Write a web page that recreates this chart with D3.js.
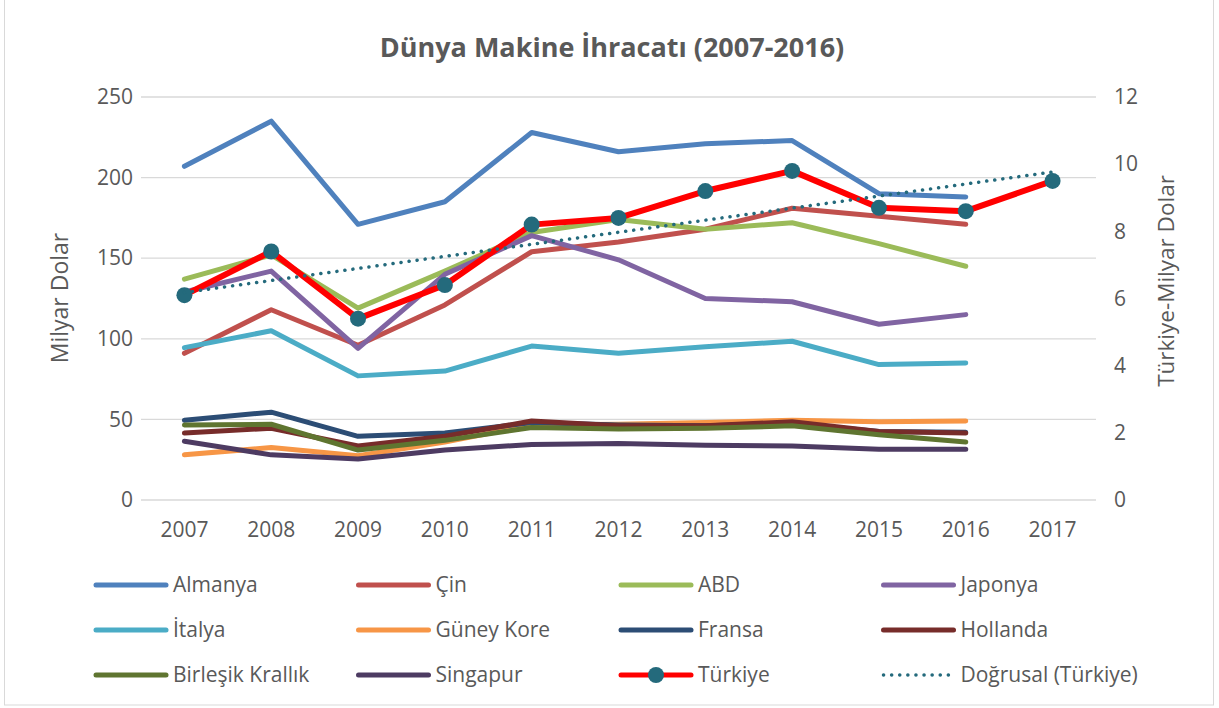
<!DOCTYPE html>
<html>

<head>
	<meta charset="utf-8">
	<script src="https://d3js.org/d3.v7.min.js"></script>
	<title>Dünya Makine İhracatı</title>
	<style>
		body { margin: 0; background: #fff; }
		text { font-family: "Open Sans", sans-serif; fill: #595959; }
	</style>
</head>

<body>
	<div id="chart"></div>
	<script>

		// years on the x axis (2017 only has a Türkiye value)
		let years = ["2007", "2008", "2009", "2010", "2011", "2012", "2013", "2014", "2015", "2016", "2017"];

		// left axis series, milyar dolar, 2007-2016
		let almanya = [207, 235, 171, 185, 228, 216, 221, 223, 190, 188];
		let cin = [91, 118, 96, 121, 154, 160, 168, 181, 176, 171];
		let abd = [137, 152, 119, 142, 166, 174, 168, 172, 159, 145];
		let japonya = [129, 142, 94, 140, 164, 149, 125, 123, 109, 115];
		let italya = [94.5, 105, 77, 80, 95.5, 91, 95, 98.5, 84, 85];
		let guneyKore = [28, 32.5, 27.5, 36, 46.5, 47, 48, 49.5, 48.5, 49];
		let fransa = [49.5, 54.5, 39.5, 41.5, 48, 46.5, 46, 47.5, 42.5, 42];
		let hollanda = [41.5, 44.5, 33.5, 39.5, 49, 46, 46, 48.5, 42.5, 41.5];
		let birlesikKrallik = [46.5, 47, 31, 37, 45, 44, 44.5, 46, 40.5, 36];
		let singapur = [36.5, 28, 25.5, 31, 34.5, 35, 34, 33.5, 31.5, 31.5];

		// right axis, Türkiye, milyar dolar, 2007-2017
		let turkiye = [6.1, 7.4, 5.4, 6.4, 8.2, 8.4, 9.2, 9.8, 8.7, 8.6, 9.5];

		let leftTicks = [0, 50, 100, 150, 200, 250];
		let rightTicks = [0, 2, 4, 6, 8, 10, 12];

		let series = [
			{ name: "Almanya", values: almanya, color: "#4F81BD" },
			{ name: "Çin", values: cin, color: "#C0504D" },
			{ name: "ABD", values: abd, color: "#9BBB59" },
			{ name: "Japonya", values: japonya, color: "#8064A2" },
			{ name: "İtalya", values: italya, color: "#4BACC6" },
			{ name: "Güney Kore", values: guneyKore, color: "#F79646" },
			{ name: "Fransa", values: fransa, color: "#2C4D75" },
			{ name: "Hollanda", values: hollanda, color: "#772C2A" },
			{ name: "Birleşik Krallık", values: birlesikKrallik, color: "#5F7530" },
			{ name: "Singapur", values: singapur, color: "#4D3B62" }
		];

		let W = 1219, H = 708;
		let margin = { top: 97, right: 123, bottom: 208, left: 141 };

		let svg = d3.select("#chart").append("svg")
			.attr("width", W)
			.attr("height", H);

		// outer border of the chart area
		svg.append("rect")
			.attr("x", 4.5).attr("y", -1)
			.attr("width", 1209).attr("height", 706)
			.attr("fill", "none")
			.attr("stroke", "#d9d9d9");

		let x = d3.scaleBand()
			.domain(years)
			.range([margin.left, W - margin.right]);
		let cx = d => x(d) + x.bandwidth() / 2;

		let yL = d3.scaleLinear().domain([0, 250]).range([H - margin.bottom, margin.top]);
		let yR = d3.scaleLinear().domain([0, 12]).range([H - margin.bottom, margin.top]);

		// title
		svg.append("text")
			.attr("x", 612).attr("y", 57)
			.attr("text-anchor", "middle")
			.style("font-size", "27px")
			.style("font-weight", "bold")
			.text("Dünya Makine İhracatı (2007-2016)");

		// gridlines
		svg.append("g")
			.selectAll("line")
			.data(leftTicks)
			.enter().append("line")
			.attr("x1", margin.left).attr("x2", W - margin.right)
			.attr("y1", d => yL(d)).attr("y2", d => yL(d))
			.attr("stroke", "#d9d9d9")
			.attr("stroke-width", 1.3);

		// axes
		let fs = "21px";
		let gL = svg.append("g")
			.attr("transform", "translate(" + margin.left + ",0)")
			.call(d3.axisLeft(yL).tickValues(leftTicks).tickSize(0).tickPadding(8));
		let gR = svg.append("g")
			.attr("transform", "translate(" + (W - margin.right) + ",0)")
			.call(d3.axisRight(yR).tickValues(rightTicks).tickSize(0).tickPadding(18));
		let gX = svg.append("g")
			.attr("transform", "translate(0," + (H - margin.bottom) + ")")
			.call(d3.axisBottom(x).tickSize(0).tickPadding(22));
		[gL, gR, gX].forEach(g => {
			g.select(".domain").remove();
			g.selectAll("text").style("font-size", fs).attr("fill", "#595959")
				.style("font-family", "'Open Sans', sans-serif");
		});

		// axis titles
		svg.append("text")
			.attr("transform", "translate(68,298) rotate(-90)")
			.attr("text-anchor", "middle")
			.style("font-size", "23px")
			.text("Milyar Dolar");
		svg.append("text")
			.attr("transform", "translate(1174,281) rotate(-90)")
			.attr("text-anchor", "middle")
			.style("font-size", "22.5px")
			.text("Türkiye-Milyar Dolar");

		// country lines
		let lineL = d3.line()
			.x((d, i) => cx(years[i]))
			.y(d => yL(d));

		svg.append("g")
			.selectAll("path")
			.data(series)
			.enter().append("path")
			.attr("d", d => lineL(d.values))
			.attr("fill", "none")
			.attr("stroke", d => d.color)
			.attr("stroke-width", 5)
			.attr("stroke-linejoin", "round")
			.attr("stroke-linecap", "round");

		// Türkiye on the right axis
		let lineR = d3.line()
			.x((d, i) => cx(years[i]))
			.y(d => yR(d));

		svg.append("path")
			.attr("d", lineR(turkiye))
			.attr("fill", "none")
			.attr("stroke", "#FF0000")
			.attr("stroke-width", 6)
			.attr("stroke-linejoin", "round")
			.attr("stroke-linecap", "round");

		svg.append("g")
			.selectAll("circle")
			.data(turkiye)
			.enter().append("circle")
			.attr("cx", (d, i) => cx(years[i]))
			.attr("cy", d => yR(d))
			.attr("r", 8)
			.attr("fill", "#246A7C");

		// linear trend of Türkiye (least squares)
		let reg = d3.range(turkiye.length).map(i => [i, turkiye[i]]);
		let mx = d3.mean(reg, d => d[0]), my = d3.mean(reg, d => d[1]);
		let slope = d3.sum(reg, d => (d[0] - mx) * (d[1] - my)) / d3.sum(reg, d => (d[0] - mx) * (d[0] - mx));
		let icpt = my - slope * mx;
		let trend = [0, turkiye.length - 1];
		svg.append("line")
			.attr("x1", cx(years[trend[0]])).attr("y1", yR(icpt + slope * trend[0]))
			.attr("x2", cx(years[trend[1]])).attr("y2", yR(icpt + slope * trend[1]))
			.attr("stroke", "#246A7C")
			.attr("stroke-width", 3.5)
			.attr("stroke-dasharray", "0.1 8")
			.attr("stroke-linecap", "round");

		// legend
		let legendItems = series.map(d => ({ name: d.name, color: d.color, type: "line" }))
			.concat([{ name: "Türkiye", color: "#FF0000", type: "marker" },
				{ name: "Doğrusal (Türkiye)", color: "#246A7C", type: "trend" }]);

		let lg = svg.append("g")
			.selectAll("g")
			.data(legendItems)
			.enter().append("g")
			.attr("transform", (d, i) => "translate(" + (96 + (i % 4) * 262.5) + "," + (585 + Math.floor(i / 4) * 45) + ")");

		lg.append("line")
			.attr("x1", 0).attr("x2", 70)
			.attr("stroke", d => d.color)
			.attr("stroke-width", d => d.type == "trend" ? 3.5 : 5)
			.attr("stroke-linecap", "round")
			.attr("stroke-dasharray", d => d.type == "trend" ? "0.1 8" : null);

		lg.filter(d => d.type == "marker").append("circle")
			.attr("cx", 35).attr("r", 8).attr("fill", "#246A7C");

		lg.append("text")
			.attr("x", 77).attr("y", 7)
			.style("font-size", fs)
			.text(d => d.name);

	</script>
</body>

</html>
